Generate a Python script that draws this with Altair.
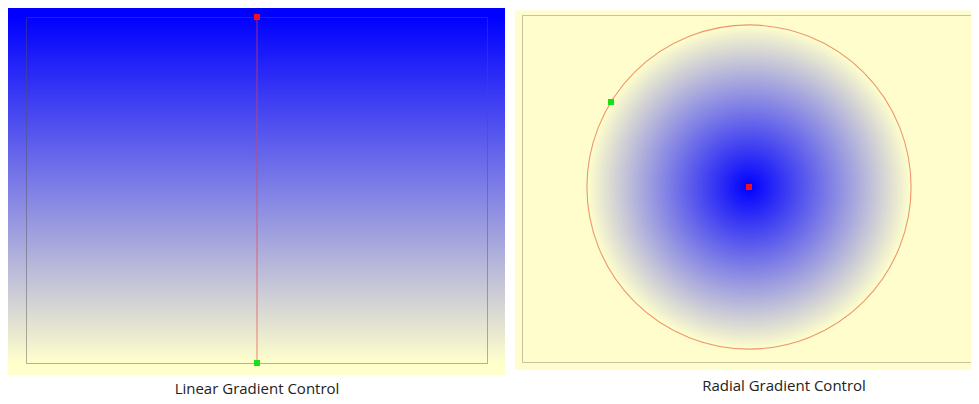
import math
import altair as alt
import pandas as pd

# ---- data -------------------------------------------------------------
panel_titles = ["Linear Gradient Control", "Radial Gradient Control"]

# linear gradient control points (panel pixel units): start (red) -> end (green)
linear_ids = ["start", "end"]
linear_x = [249, 249]
linear_y = [9, 355]

# radial gradient control points: center (red), edge handle (green)
radial_ids = ["center", "edge"]
radial_x = [234, 96]
radial_y = [179, 94]

handle_colors = ["#F01020", "#18E018"]
stop_colors = ["#0000FF", "#FFFFCC"]

# ---- layout -----------------------------------------------------------
LW, RW, H = 499, 456, 388
BG_Y2 = 367


def xs(w):
    return alt.Scale(domain=[0, w], range=[0, w], nice=False, zero=False)


YS = alt.Scale(domain=[0, H], range=[0, H], nice=False, zero=False)


def box(x, x2, y, y2):
    return pd.DataFrame({"x": [x], "x2": [x2], "y": [y], "y2": [y2]})


def box_enc(w):
    return dict(
        x=alt.X("x:Q", scale=xs(w), axis=None),
        x2="x2:Q",
        y=alt.Y("y:Q", scale=YS, axis=None),
        y2="y2:Q",
    )


# ---------------- left panel: linear ----------------
lin = pd.DataFrame({"id": linear_ids, "x": linear_x, "y": linear_y, "o": [0, 1]})
lin_grad = {
    "gradient": "linear",
    "x1": 0, "x2": 0,
    "y1": linear_y[0] / BG_Y2,
    "y2": linear_y[1] / BG_Y2,
    "stops": [
        {"offset": 0, "color": stop_colors[0]},
        {"offset": 1, "color": stop_colors[1]},
    ],
}
l_bg = alt.Chart(box(0, 497, 0, BG_Y2)).mark_rect(fill=lin_grad).encode(**box_enc(LW))
l_border = alt.Chart(box(18.5, 479.5, 9.5, 355.5)).mark_rect(
    fillOpacity=0, stroke="#555555", strokeOpacity=0.45, strokeWidth=1
).encode(**box_enc(LW))
l_line = alt.Chart(lin).mark_line(color="#F04040", opacity=0.55, strokeWidth=1.2).encode(
    x=alt.X("x:Q", scale=xs(LW), axis=None),
    y=alt.Y("y:Q", scale=YS, axis=None),
    order="o:Q",
)
l_pts = alt.Chart(lin).mark_square(size=36, opacity=1).encode(
    x=alt.X("x:Q", scale=xs(LW), axis=None),
    y=alt.Y("y:Q", scale=YS, axis=None),
    color=alt.Color("id:N", scale=alt.Scale(domain=linear_ids, range=handle_colors), legend=None),
)
l_title = alt.Chart(pd.DataFrame({"t": [panel_titles[0]], "x": [249], "y": [381]})).mark_text(
    font="Open Sans", fontSize=15, color="#222222", baseline="middle", align="center"
).encode(
    x=alt.X("x:Q", scale=xs(LW), axis=None),
    y=alt.Y("y:Q", scale=YS, axis=None),
    text="t:N",
)
left = alt.layer(l_bg, l_border, l_line, l_pts, l_title).properties(width=LW, height=H)

# ---------------- right panel: radial ----------------
rad = pd.DataFrame({"id": radial_ids, "x": radial_x, "y": radial_y})
radius = math.hypot(radial_x[1] - radial_x[0], radial_y[1] - radial_y[0])
rad_grad = {
    "gradient": "radial",
    "x1": 0.5, "y1": 0.5, "r1": 0,
    "x2": 0.5, "y2": 0.5, "r2": 0.5,
    "stops": [
        {"offset": 0, "color": stop_colors[0]},
        {"offset": 1, "color": stop_colors[1]},
    ],
}
r_bg = alt.Chart(box(0, 480, 2.5, 362)).mark_rect(fill="#FFFDCB", clip=True).encode(**box_enc(RW))
r_border = alt.Chart(box(7.5, 480, 7.5, 354.5)).mark_rect(
    fillOpacity=0, stroke="#555555", strokeOpacity=0.35, strokeWidth=1, clip=True
).encode(**box_enc(RW))
r_circle = alt.Chart(rad.iloc[[0]]).mark_arc(
    radius=radius, theta=0, theta2=2 * math.pi, fill=rad_grad,
    stroke="#E05030", strokeOpacity=0.6, strokeWidth=1.1,
).encode(
    x=alt.X("x:Q", scale=xs(RW), axis=None),
    y=alt.Y("y:Q", scale=YS, axis=None),
)
r_pts = alt.Chart(rad).mark_square(size=36, opacity=1).encode(
    x=alt.X("x:Q", scale=xs(RW), axis=None),
    y=alt.Y("y:Q", scale=YS, axis=None),
    color=alt.Color("id:N", scale=alt.Scale(domain=radial_ids, range=handle_colors), legend=None),
)
r_title = alt.Chart(pd.DataFrame({"t": [panel_titles[1]], "x": [269], "y": [378]})).mark_text(
    font="Open Sans", fontSize=15, color="#222222", baseline="middle", align="center"
).encode(
    x=alt.X("x:Q", scale=xs(RW), axis=None),
    y=alt.Y("y:Q", scale=YS, axis=None),
    text="t:N",
)
right = alt.layer(r_bg, r_border, r_circle, r_pts, r_title).properties(width=RW, height=H)

chart = (
    alt.hconcat(left, right, spacing=8)
    .resolve_scale(color="independent")
    .properties(padding=0, background="white")
    .configure_view(stroke=None)
)

chart.save("out.html", embed_options={"renderer": "svg", "actions": False})
